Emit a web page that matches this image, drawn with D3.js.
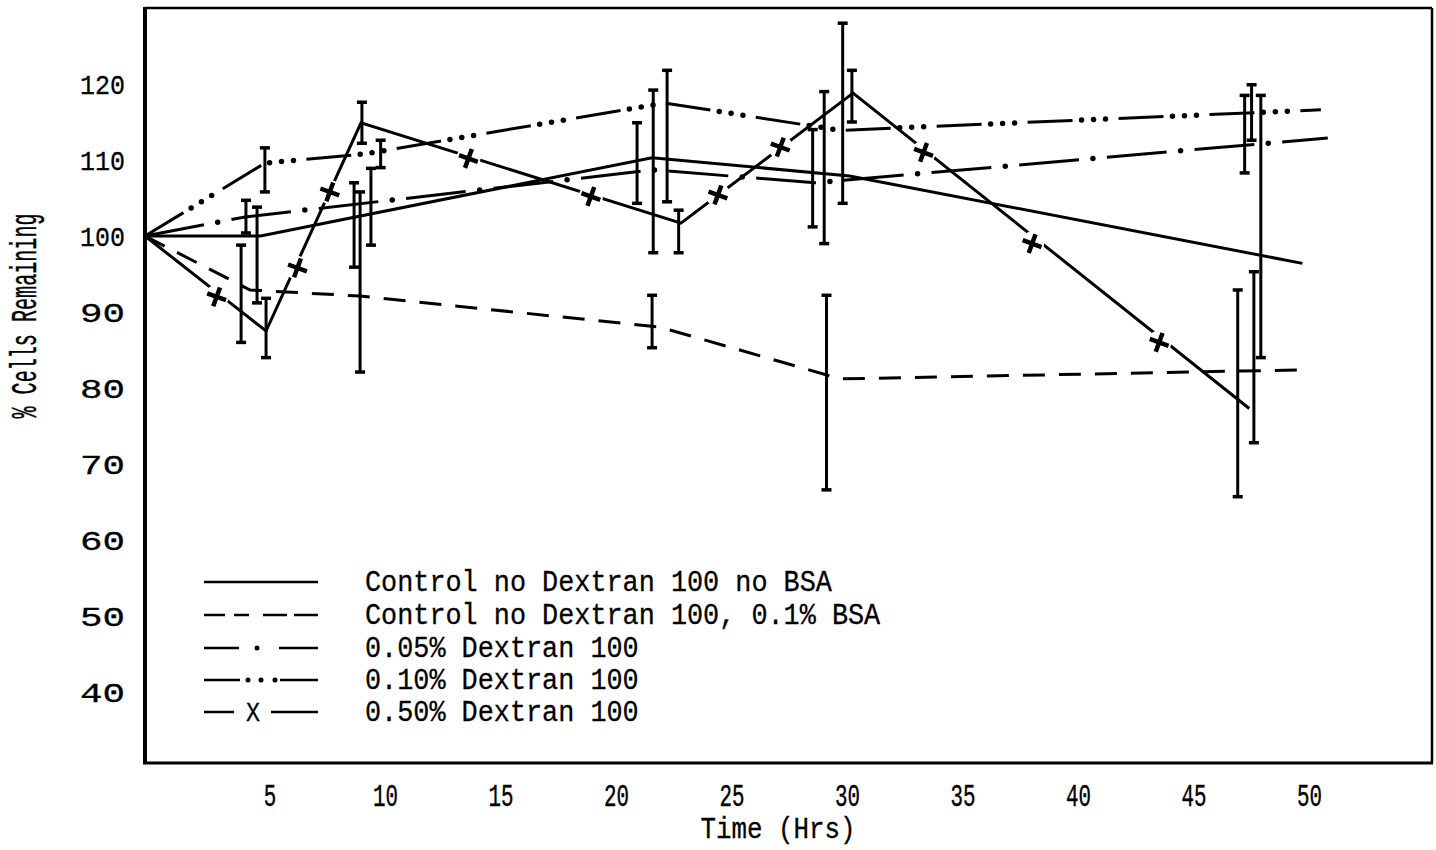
<!DOCTYPE html>
<html>
<head>
<meta charset="utf-8">
<script src="https://cdn.jsdelivr.net/npm/d3@7/dist/d3.min.js"></script>
<style>
body { margin:0; background:#fff; }
text { font-family:"Liberation Mono","Courier New",monospace; fill:#000; }
</style>
</head>
<body>
<svg id="chart" width="1436" height="850"></svg>
<script>
// tick labels
var xTicks = [5,10,15,20,25,30,35,40,45,50];
var yTicks = [40,50,60,70,80,90,100,110,120];

// legend
var legendLabels = [
	"Control no Dextran 100 no BSA",
	"Control no Dextran 100, 0.1% BSA",
	"0.05% Dextran 100",
	"0.10% Dextran 100",
	"0.50% Dextran 100"
];

// series: [time (hrs), % cells remaining]
var controlNoBSA = [[0,100],[5,100],[21.95,110.3],[30.5,107.9],[50.1,96.4]];
var controlBSA   = [[0,100],[4.55,92.9],[9.3,92.1],[22.3,88],[30.1,81.2],[50.3,82.4]];
var dex005       = [[0,100],[4.33,102.5],[22,108.7],[29,107],[51.2,112.9]];
var dex010       = [[0,100],[5.2,109.6],[9.5,110.8],[22.5,117.5],[30.1,113.9],[50.9,116.6]];
var dex050       = [[0,100],[5.24,87.5],[9.35,114.9],[23.2,101.7],[30.65,118.8],[47.8,77.3]];
// X marks drawn along the 0.50% line
var dex050Marks  = [[3.1,92],[6.6,95.8],[8,105.8],[14,110.2],[19.3,105.2],[24.8,105.4],[27.5,111.7],[33.7,111],[38.4,99],[43.9,86]];

// error bars: [time, low, high]
var errorBars = [
	[5.19,105.8,111.6],[4.37,100.4,104.7],[4.85,91.2,103.8],[4.16,86,98.8],[5.24,84,91.8],
	[9.39,112.2,117.6],[10.2,109,112.6],[9.78,98.8,108.9],[9.05,95.9,107],[9.31,82.1,105.8],
	[22.6,104.5,121.8],[22.0,97.8,119.2],[21.3,104.3,114.9],[23.1,97.8,103.4],[21.95,85.3,92.2],
	[30.2,104.3,128],[30.6,115,121.8],[29.4,99,119],[28.9,101.2,114],[29.5,66.6,92.2],
	[47.9,112.6,119.9],[47.6,108.3,118.5],[48.3,84,118.5],[48.0,72.8,95.3],[47.3,65.7,92.9]
];

var svg = d3.select("#chart");
var plotL = 145, plotR = 1432, plotT = 8, plotB = 763;

var x = d3.scaleLinear().domain([0,55.71]).range([plotL,plotR]);
var y = d3.scaleLinear().domain([30.66,130]).range([plotB,plotT]);

function DrawFrame(){
	svg.append("line").attr("x1",plotL).attr("y1",plotT).attr("x2",plotR).attr("y2",plotT)
		.attr("stroke","#000").attr("stroke-width",2.5);
	svg.append("line").attr("x1",plotR).attr("y1",plotT).attr("x2",plotR).attr("y2",plotB)
		.attr("stroke","#000").attr("stroke-width",2.5);
	svg.append("line").attr("x1",plotL-2).attr("y1",plotB).attr("x2",plotR+1).attr("y2",plotB)
		.attr("stroke","#000").attr("stroke-width",3);
	svg.append("line").attr("x1",plotL).attr("y1",plotT-1).attr("x2",plotL).attr("y2",plotB+1)
		.attr("stroke","#000").attr("stroke-width",4);
}

function DrawAxes(){
	var ya = svg.append("g").attr("transform","translate("+plotL+",0)")
		.call(d3.axisLeft(y).tickValues(yTicks).tickSize(0).tickPadding(20));
	ya.select(".domain").remove();
	ya.selectAll("text").attr("font-family",null).attr("font-size",28)
		.attr("textLength",45).attr("lengthAdjust","spacingAndGlyphs")
		.attr("stroke","#000").attr("stroke-width",0.3)
		.attr("dy","0.35em");

	var xa = svg.append("g").attr("transform","translate(0,"+plotB+")")
		.call(d3.axisBottom(x).tickValues(xTicks).tickSize(0).tickPadding(20));
	xa.select(".domain").remove();
	xa.selectAll("text").attr("font-family",null).attr("font-size",32)
		.attr("dx",9)
		.attr("stroke","#000").attr("stroke-width",0.4)
		.attr("textLength",function(d){ return String(d).length*12.5; })
		.attr("lengthAdjust","spacingAndGlyphs");

	svg.append("text").attr("x",778).attr("y",838).attr("text-anchor","middle")
		.attr("font-size",30).attr("stroke","#000").attr("stroke-width",0.3)
		.attr("textLength",155).attr("lengthAdjust","spacingAndGlyphs")
		.text("Time (Hrs)");

	svg.append("text").attr("transform","translate(36,316) rotate(-90)")
		.attr("text-anchor","middle").attr("font-size",36)
		.attr("stroke","#000").attr("stroke-width",0.4)
		.attr("textLength",205).attr("lengthAdjust","spacingAndGlyphs")
		.text("% Cells Remaining");
}

var line = d3.line().x(function(d){ return x(d[0]); }).y(function(d){ return y(d[1]); });
var allSeries = [controlNoBSA, controlBSA, dex005, dex010];
// dash part and dot part of each pattern (dot part drawn with round caps, shifted past the dash)
var dashes = [null, "22,14", "60,28", "45,46"];
var dots = [null, null, "0,88", "0,12,0,12,0,67"];
var dotShift = [0, 0, -74, -54];

function DrawSeries(){
	for(var i=0;i<allSeries.length;i++){
		svg.append("path").datum(allSeries[i]).attr("d",line)
			.attr("fill","none").attr("stroke","#000").attr("stroke-width",3)
			.attr("stroke-dasharray",dashes[i]);
		if(dots[i]){
			svg.append("path").datum(allSeries[i]).attr("d",line)
				.attr("fill","none").attr("stroke","#000").attr("stroke-width",5.5)
				.attr("stroke-linecap","round").attr("stroke-dasharray",dots[i])
				.attr("stroke-dashoffset",dotShift[i]);
		}
	}

	// 0.50% line is broken where the X marks sit
	var mask = svg.append("defs").append("mask").attr("id","xgap")
		.attr("maskUnits","userSpaceOnUse").attr("x",0).attr("y",0).attr("width",1436).attr("height",850);
	mask.append("rect").attr("width",1436).attr("height",850).attr("fill","#fff");
	mask.selectAll("circle").data(dex050Marks).enter().append("circle")
		.attr("cx",function(d){ return x(d[0]); }).attr("cy",function(d){ return y(d[1]); })
		.attr("r",12).attr("fill","#000");

	svg.append("path").datum(dex050).attr("d",line).attr("mask","url(#xgap)")
		.attr("fill","none").attr("stroke","#000").attr("stroke-width",3);

	svg.selectAll(".xmark").data(dex050Marks).enter().append("path").attr("class","xmark")
		.attr("transform",function(d){ return "translate("+x(d[0])+","+y(d[1])+") rotate(20)"; })
		.attr("d","M-10,0L10,0M0,-10L0,10")
		.attr("stroke","#000").attr("stroke-width",4.5).attr("fill","none");
}

function DrawErrorBars(){
	var g = svg.append("g").attr("stroke","#000").attr("fill","none");
	errorBars.forEach(function(b){
		var bx = x(b[0]);
		g.append("line").attr("x1",bx).attr("x2",bx).attr("y1",y(b[1])).attr("y2",y(b[2])).attr("stroke-width",3);
		g.append("line").attr("x1",bx-5).attr("x2",bx+5).attr("y1",y(b[1])).attr("y2",y(b[1])).attr("stroke-width",3.5);
		g.append("line").attr("x1",bx-5).attr("x2",bx+5).attr("y1",y(b[2])).attr("y2",y(b[2])).attr("stroke-width",3.5);
	});
}

function DrawLegend(){
	var rows = [582,615,648,680,712];
	var sampleDash = [null, "21,9,15,14,24,7,26", "35,40,45", "36,40,42"];
	var sampleDots = [null, null, "0,200", "0,13,0,14,0,200"];
	var sampleShift = [0, 0, -53, -44];
	for(var i=0;i<legendLabels.length;i++){
		var ly = rows[i];
		if(i<4){
			svg.append("line").attr("x1",204).attr("x2",318).attr("y1",ly).attr("y2",ly)
				.attr("stroke","#000").attr("stroke-width",2.5).attr("stroke-dasharray",sampleDash[i]);
			if(sampleDots[i]){
				svg.append("line").attr("x1",204).attr("x2",318).attr("y1",ly).attr("y2",ly)
					.attr("stroke","#000").attr("stroke-width",5).attr("stroke-linecap","round")
					.attr("stroke-dasharray",sampleDots[i]).attr("stroke-dashoffset",sampleShift[i]);
			}
		} else {
			svg.append("line").attr("x1",204).attr("x2",234).attr("y1",ly).attr("y2",ly)
				.attr("stroke","#000").attr("stroke-width",2.5);
			svg.append("line").attr("x1",271).attr("x2",318).attr("y1",ly).attr("y2",ly)
				.attr("stroke","#000").attr("stroke-width",2.5);
			svg.append("text").attr("x",253).attr("y",ly+9).attr("text-anchor","middle")
				.attr("font-size",28).attr("stroke","#000").attr("stroke-width",0.3)
				.attr("textLength",14).attr("lengthAdjust","spacingAndGlyphs").text("X");
		}
		svg.append("text").attr("x",365).attr("y",ly+9).attr("font-size",30)
			.attr("stroke","#000").attr("stroke-width",0.3)
			.attr("textLength",legendLabels[i].length*16.1).attr("lengthAdjust","spacingAndGlyphs")
			.text(legendLabels[i]);
	}
}

DrawFrame();
DrawAxes();
DrawSeries();
DrawErrorBars();
DrawLegend();
</script>
</body>
</html>
